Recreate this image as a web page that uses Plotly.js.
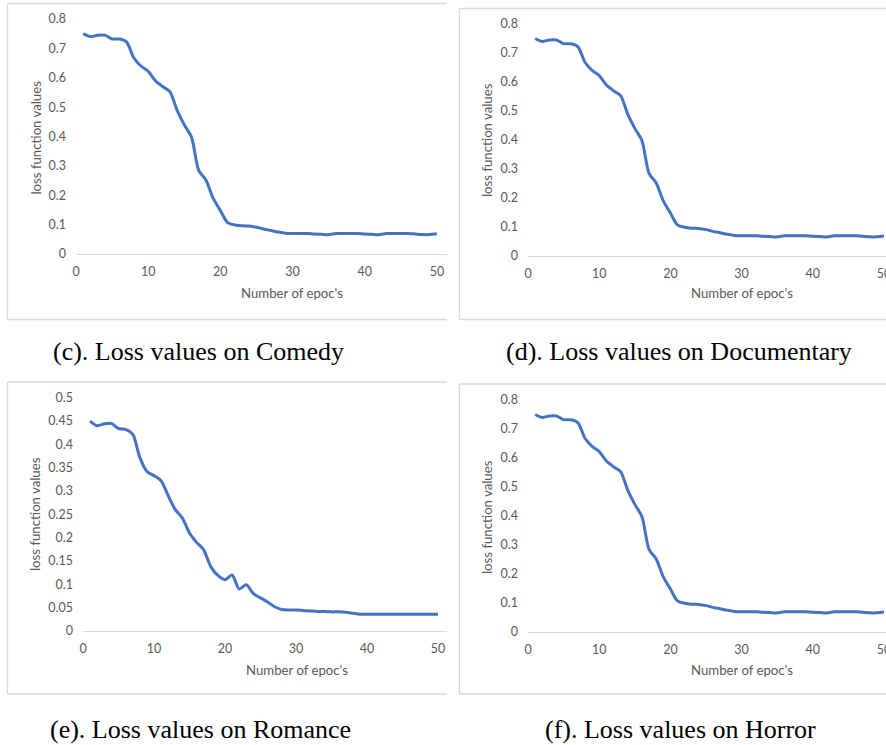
<!DOCTYPE html>
<html>
<head>
<meta charset="utf-8">
<script src="https://cdn.plot.ly/plotly-3.0.1.min.js"></script>
<style>
  html, body { margin: 0; padding: 0; background: #ffffff; }
  #chart { width: 886px; height: 745px; }
</style>
</head>
<body>
<div id="chart"></div>
<script>
// ---------- data ----------
const epochs = [1,2,3,4,5,6,7,8,9,10,11,12,13,14,15,16,17,18,19,20,21,22,23,24,25,26,27,28,29,30,31,32,33,34,35,36,37,38,39,40,41,42,43,44,45,46,47,48,49,50];

const comedyLoss = [0.750,0.740,0.745,0.745,0.732,0.732,0.722,0.668,0.640,0.622,0.590,0.570,0.553,0.490,0.440,0.398,0.285,0.252,0.190,0.148,0.107,0.099,0.096,0.095,0.091,0.085,0.080,0.075,0.071,0.070,0.070,0.070,0.068,0.067,0.066,0.070,0.070,0.070,0.070,0.068,0.067,0.066,0.070,0.070,0.070,0.070,0.068,0.066,0.066,0.069];

const documentaryLoss = [0.750,0.740,0.745,0.745,0.732,0.732,0.722,0.668,0.640,0.622,0.590,0.570,0.553,0.490,0.440,0.398,0.285,0.252,0.190,0.148,0.107,0.099,0.096,0.095,0.091,0.085,0.080,0.075,0.071,0.070,0.070,0.070,0.068,0.067,0.066,0.070,0.070,0.070,0.070,0.068,0.067,0.066,0.070,0.070,0.070,0.070,0.068,0.066,0.066,0.069];

const romanceLoss = [0.450,0.440,0.444,0.445,0.434,0.432,0.422,0.372,0.342,0.333,0.322,0.290,0.260,0.242,0.210,0.190,0.174,0.138,0.119,0.110,0.120,0.090,0.099,0.080,0.071,0.062,0.052,0.046,0.045,0.045,0.044,0.043,0.042,0.042,0.041,0.041,0.040,0.038,0.036,0.036,0.036,0.036,0.036,0.036,0.036,0.036,0.036,0.036,0.036,0.036];

const horrorLoss = [0.750,0.740,0.745,0.745,0.732,0.732,0.722,0.668,0.640,0.622,0.590,0.570,0.553,0.490,0.440,0.398,0.285,0.252,0.190,0.148,0.107,0.099,0.096,0.095,0.091,0.085,0.080,0.075,0.071,0.070,0.070,0.070,0.068,0.067,0.066,0.070,0.070,0.070,0.070,0.068,0.067,0.066,0.070,0.070,0.070,0.070,0.068,0.066,0.066,0.069];

const xTickVals = [0,10,20,30,40,50];
const xTitle = "Number of epoc's";
const yTitle = "loss function values";
const captions = [
  "(c). Loss values on Comedy",
  "(d). Loss values on Documentary",
  "(e). Loss values on Romance",
  "(f). Loss values on Horror"
];

// ---------- layout helpers (pixel -> paper) ----------
const W = 886, H = 745;
const px = x => x / W;
const py = y => 1 - y / H;

const LINE_COLOR = '#4472C4';
const AXIS_FONT = {family: 'Lato, Open Sans, sans-serif', size: 12.5, color: '#595959'};
const TITLE_FONT = {family: 'Lato, Open Sans, sans-serif', size: 13.2, color: '#595959'};
const BORDER = '#D9D9D9';

function trace(y, xa, ya) {
  return {
    x: epochs, y: y, xaxis: xa, yaxis: ya,
    type: 'scatter', mode: 'lines',
    line: {color: LINE_COLOR, width: 3, shape: 'spline', smoothing: 0.8},
    hoverinfo: 'skip', showlegend: false
  };
}

function xaxis(d0, d1, rmax, anchor) {
  return {
    domain: [px(d0), px(d1)], range: [0, rmax], anchor: anchor,
    tickvals: xTickVals, ticks: '', showgrid: false, zeroline: false,
    showline: true, linecolor: BORDER, linewidth: 1.3,
    tickfont: AXIS_FONT, ticklabelstandoff: 6, ticklabeloverflow: 'allow',
    fixedrange: true
  };
}
function yaxis(top, bottom, rmax, dtick, anchor) {
  return {
    domain: [py(bottom), py(top)], range: [0, rmax], anchor: anchor,
    dtick: dtick, tick0: 0, ticks: '', showgrid: false, zeroline: false,
    showline: false, tickfont: AXIS_FONT, ticklabelstandoff: 9, fixedrange: true
  };
}

const data = [
  trace(comedyLoss, 'x', 'y'),
  trace(documentaryLoss, 'x2', 'y2'),
  trace(romanceLoss, 'x3', 'y3'),
  trace(horrorLoss, 'x4', 'y4')
];

function border(l, t, r, b) {
  const s = {type: 'line', xref: 'paper', yref: 'paper', line: {color: BORDER, width: 1.3}};
  return [
    Object.assign({}, s, {x0: px(l), x1: px(r), y0: py(t), y1: py(t)}),
    Object.assign({}, s, {x0: px(l), x1: px(l), y0: py(t), y1: py(b)}),
    Object.assign({}, s, {x0: px(l), x1: px(r), y0: py(b), y1: py(b)})
  ];
}

function ann(text, x, y, font, angle) {
  return {text: text, x: px(x), y: py(y), xref: 'paper', yref: 'paper',
          showarrow: false, xanchor: 'center', yanchor: 'middle',
          textangle: angle || 0, font: font};
}

const CAP_FONT = {family: 'Liberation Serif, Times New Roman, Times, serif', size: 26, color: '#000000'};

const layout = {
  width: W, height: H,
  margin: {l: 0, r: 0, t: 0, b: 0},
  paper_bgcolor: '#ffffff', plot_bgcolor: 'rgba(0,0,0,0)',
  showlegend: false,
  xaxis:  xaxis(76, 447, 51.4, 'y'),
  yaxis:  yaxis(19, 254, 0.8, 0.1, 'x'),
  xaxis2: xaxis(528, 886, 50.28, 'y2'),
  yaxis2: yaxis(24, 256, 0.8, 0.1, 'x2'),
  xaxis3: xaxis(83, 447, 51.27, 'y3'),
  yaxis3: yaxis(397.7, 631, 0.5, 0.05, 'x3'),
  xaxis4: xaxis(528, 886, 50.28, 'y4'),
  yaxis4: yaxis(400, 632, 0.8, 0.1, 'x4'),
  shapes: [].concat(
    border(7.5, 3.5, 447, 319.5),
    border(459.5, 8.5, 886, 319.5),
    border(7.5, 382, 447, 694),
    border(459.5, 384, 886, 694)
  ),
  annotations: [
    ann(yTitle, 35, 137.5, TITLE_FONT, -90),
    ann(xTitle, 292, 293, TITLE_FONT),
    ann(yTitle, 487, 140, TITLE_FONT, -90),
    ann(xTitle, 742, 293, TITLE_FONT),
    ann(yTitle, 35, 514, TITLE_FONT, -90),
    ann(xTitle, 297, 670, TITLE_FONT),
    ann(yTitle, 487, 517, TITLE_FONT, -90),
    ann(xTitle, 742, 670, TITLE_FONT),
    ann(captions[0], 198, 352, CAP_FONT),
    ann(captions[1], 679, 352, CAP_FONT),
    ann(captions[2], 200, 729, CAP_FONT),
    ann(captions[3], 680, 729, CAP_FONT)
  ]
};

Plotly.newPlot('chart', data, layout, {staticPlot: true, displayModeBar: false});
</script>
</body>
</html>
